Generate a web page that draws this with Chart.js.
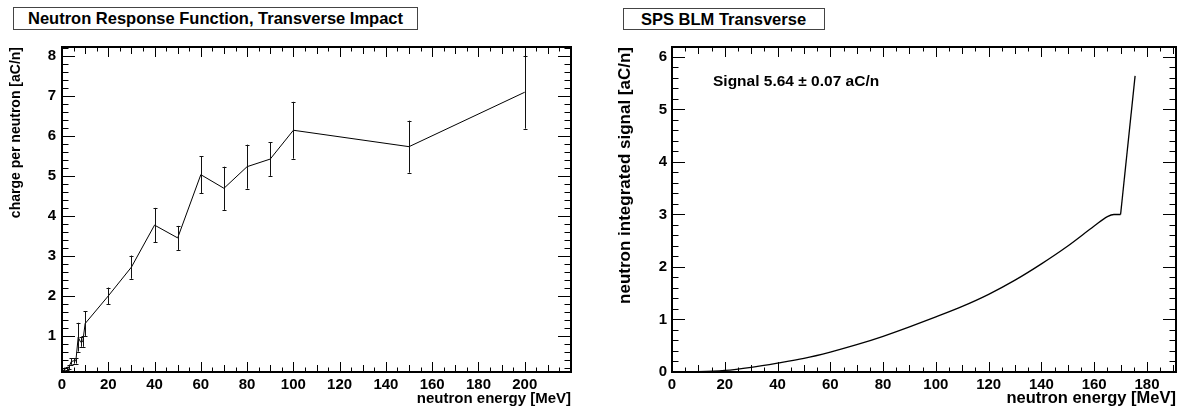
<!DOCTYPE html>
<html><head><meta charset="utf-8">
<script src="https://cdn.jsdelivr.net/npm/chart.js@4.4.1/dist/chart.umd.min.js"></script>
<style>
html,body{margin:0;padding:0;background:#fff;}
body{width:1183px;height:410px;position:relative;overflow:hidden;font-family:"Liberation Sans",Arial,sans-serif;}
.box{position:absolute;border:1px solid #444;background:#fff;font-weight:bold;font-size:16.5px;line-height:21px;color:#000;box-sizing:border-box;white-space:nowrap;}
canvas{position:absolute;top:0;}
</style></head><body>
<canvas id="c1" width="595" height="410" style="left:0"></canvas>
<canvas id="c2" width="583" height="410" style="left:600px"></canvas>
<div class="box" style="left:13px;top:7px;width:405px;height:23px;padding-left:14px">Neutron Response Function, Transverse Impact</div>
<div class="box" style="left:623px;top:8px;width:202px;height:22px;padding-left:17px">SPS BLM Transverse</div>
<div style="position:absolute;left:713px;top:72px;font-weight:bold;font-size:15.5px;white-space:nowrap">Signal 5.64 &#177; 0.07 aC/n</div>
<script>
// ---------- data ----------
const energyL = [0.5, 1, 2, 3, 4, 5, 6, 7, 8, 9, 10, 20, 30, 40, 50, 60, 70, 80, 90, 100, 150, 200];
const chargeL = [0.12, 0.17, 0.19, 0.22, 0.36, 0.38, 0.38, 0.97, 0.85, 0.86, 1.31, 2.0, 2.72, 3.77, 3.45, 5.03, 4.69, 5.23, 5.42, 6.14, 5.73, 7.09];
const errorL  = [0.03, 0.04, 0.04, 0.05, 0.08, 0.07, 0.07, 0.36, 0.12, 0.13, 0.31, 0.21, 0.29, 0.43, 0.30, 0.46, 0.54, 0.55, 0.42, 0.71, 0.65, 0.91];

const energyR = [0, 10, 20, 30, 40, 50, 60, 70, 80, 90, 100, 110, 120, 130, 140, 150, 160, 165, 167.5, 170, 175.5];
const signalR = [0, 0.005, 0.03, 0.09, 0.17, 0.26, 0.38, 0.52, 0.68, 0.86, 1.05, 1.25, 1.48, 1.75, 2.06, 2.40, 2.78, 2.96, 3.0, 3.0, 5.64];

const xTicksL = [0, 20, 40, 60, 80, 100, 120, 140, 160, 180, 200];
const yTicksL = [1, 2, 3, 4, 5, 6, 7, 8];
const xTicksR = [0, 20, 40, 60, 80, 100, 120, 140, 160, 180];
const yTicksR = [0, 1, 2, 3, 4, 5, 6];

// ---------- helpers ----------
const FAM = '"Liberation Sans", Arial, sans-serif';
const font = s => ({family: FAM, size: s, weight: 'bold'});

const rootFrame = {
  id: 'rootFrame',
  afterDatasetsDraw(chart, args, o) {
    const {ctx, chartArea: a, scales: {x, y}} = chart;
    ctx.save();
    ctx.strokeStyle = '#000';
    ctx.lineWidth = 1;
    const seg = (x1, y1, x2, y2) => { ctx.beginPath(); ctx.moveTo(x1, y1); ctx.lineTo(x2, y2); ctx.stroke(); };
    const xs = o.xMinor;
    for (let i = Math.ceil(x.min / xs - 1e-9); i * xs <= x.max + 1e-9; i++) {
      const v = i * xs;
      const px = Math.round(x.getPixelForValue(v)) + 0.5;
      let len = o.xMinLen;
      if (i % o.xMajEvery === 0) len = o.xMajLen;
      else if (i % (o.xMajEvery / 2) === 0) len = o.xMidLen;
      seg(px, a.bottom, px, a.bottom - len);
      seg(px, a.top, px, a.top + len);
    }
    const ys = o.yMinor;
    for (let i = Math.ceil(y.min / ys - 1e-9); i * ys <= y.max + 1e-9; i++) {
      const v = i * ys;
      const py = Math.round(y.getPixelForValue(v)) + 0.5;
      const len = (i % o.yMajEvery === 0) ? o.yMajLen : o.yMinLen;
      seg(a.left, py, a.left + len, py);
      seg(a.right, py, a.right - len, py);
    }
    ctx.lineWidth = 2;
    ctx.strokeRect(a.left, a.top, a.right - a.left, a.bottom - a.top);
    ctx.restore();
  }
};

const errorBars = {
  id: 'errorBars',
  afterDatasetsDraw(chart, args, o) {
    if (!o.err) return;
    const {ctx, scales: {x, y}} = chart;
    ctx.save();
    ctx.strokeStyle = '#111';
    ctx.lineWidth = 1;
    o.xs.forEach((e, i) => {
      const px = Math.round(x.getPixelForValue(e)) + 0.5;
      const top = Math.max(y.getPixelForValue(o.ys[i] + o.err[i]), chart.chartArea.top);
      const bot = Math.min(y.getPixelForValue(o.ys[i] - o.err[i]), chart.chartArea.bottom);
      ctx.beginPath();
      ctx.moveTo(px, top); ctx.lineTo(px, bot);
      ctx.moveTo(px - 2, Math.round(top) + 0.5); ctx.lineTo(px + 2, Math.round(top) + 0.5);
      ctx.moveTo(px - 2, Math.round(bot) + 0.5); ctx.lineTo(px + 2, Math.round(bot) + 0.5);
      ctx.stroke();
    });
    ctx.restore();
  }
};

function makeScales(cfg) {
  return {
    x: {
      type: 'linear', position: 'bottom', min: cfg.xmin, max: cfg.xmax,
      afterBuildTicks: s => { s.ticks = cfg.xTicks.map(v => ({value: v})); },
      afterFit: s => { s.height = cfg.xAxisH; },
      grid: {display: false, drawTicks: false},
      border: {display: false},
      ticks: {font: font(cfg.tickSize), color: '#000', padding: 4, maxRotation: 0, autoSkip: false},
      title: {display: true, text: 'neutron energy [MeV]', align: 'end', color: '#000', font: font(cfg.xTitleSize), padding: {top: 0, bottom: 2}}
    },
    y: {
      type: 'linear', position: 'left', min: cfg.ymin, max: cfg.ymax,
      afterBuildTicks: s => { s.ticks = cfg.yTicks.map(v => ({value: v})); },
      afterFit: s => { s.width = cfg.yAxisW; },
      grid: {display: false, drawTicks: false},
      border: {display: false},
      ticks: {font: font(cfg.tickSize), color: '#000', padding: cfg.yPad, autoSkip: false},
      title: {display: true, text: cfg.yTitle, align: 'end', color: '#000', font: font(cfg.yTitleSize), padding: {top: cfg.yTitlePad, bottom: 0}}
    }
  };
}

const tickOpts = {xMinor: 5, xMajEvery: 4, xMajLen: 10, xMidLen: 7, xMinLen: 4.5,
                  yMinor: 0.2, yMajEvery: 5, yMajLen: 13, yMinLen: 6.5};

new Chart(document.getElementById('c1'), {
  type: 'line',
  data: {
    datasets: [{
      data: energyL.map((e, i) => ({x: e, y: chargeL[i]})),
      borderColor: '#000', borderWidth: 1, pointRadius: 0, tension: 0, fill: false
    }]
  },
  options: {
    responsive: false, animation: false,
    layout: {padding: {left: 0, right: 24, top: 47, bottom: 0}},
    plugins: {legend: {display: false}, tooltip: {enabled: false},
      rootFrame: tickOpts,
      errorBars: {xs: energyL, ys: chargeL, err: errorL}},
    scales: makeScales({xmin: 0, xmax: 220, ymin: 0.1, ymax: 8.22, xTicks: xTicksL, yTicks: yTicksL,
      xAxisH: 38, yAxisW: 62, yPad: 6, tickSize: 15, xTitleSize: 15, yTitleSize: 14,
      yTitle: 'charge per neutron [aC/n]', yTitlePad: 8})
  },
  plugins: [errorBars, rootFrame]
});

new Chart(document.getElementById('c2'), {
  type: 'line',
  data: {
    datasets: [{
      data: energyR.slice(0, energyR.length - 1).map((e, i) => ({x: e, y: signalR[i]})),
      borderColor: '#000', borderWidth: 1.3, pointRadius: 0, cubicInterpolationMode: 'monotone', fill: false
    }, {
      data: energyR.slice(energyR.length - 2).map((e, i) => ({x: e, y: signalR[energyR.length - 2 + i]})),
      borderColor: '#000', borderWidth: 1.3, pointRadius: 0, tension: 0, fill: false
    }]
  },
  options: {
    responsive: false, animation: false,
    layout: {padding: {left: 0, right: 7, top: 47, bottom: 0}},
    plugins: {legend: {display: false}, tooltip: {enabled: false},
      rootFrame: tickOpts,
      errorBars: {}},
    scales: makeScales({xmin: 0, xmax: 191, ymin: 0, ymax: 6.19, xTicks: xTicksR, yTicks: yTicksR,
      xAxisH: 38, yAxisW: 72, yPad: 5, tickSize: 15, xTitleSize: 16.5, yTitleSize: 17,
      yTitle: 'neutron integrated signal [aC/n]', yTitlePad: 15.5})
  },
  plugins: [errorBars, rootFrame]
});
</script>
</body></html>
